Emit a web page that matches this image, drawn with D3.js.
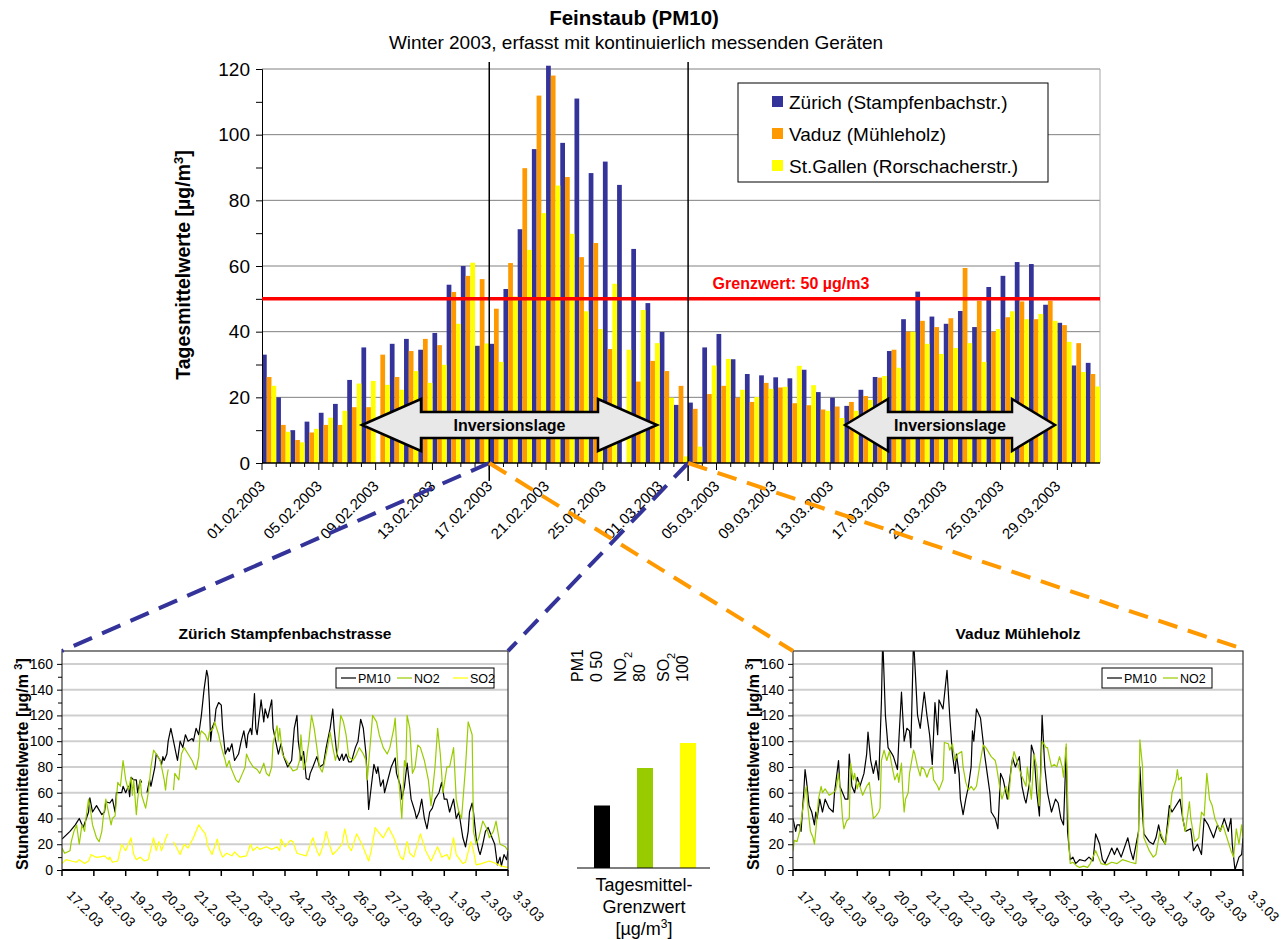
<!DOCTYPE html>
<html>
<head>
<meta charset="utf-8">
<script src="https://cdn.jsdelivr.net/npm/d3@7"></script>
<style>
  body { margin: 0; background: #fff; }
  text { font-family: "Liberation Sans", Arial, sans-serif; }
</style>
</head>
<body>
<script>
// Feinstaub (PM10) Winter 2003 - Tagesmittel + Stundenmittel

const width = 1286;
const height = 940;

// ---- daily means (01.02.2003 - 31.03.2003) ----
const stations = ["Zürich (Stampfenbachstr.)", "Vaduz (Mühleholz)", "St.Gallen (Rorschacherstr.)"];
const stationColors = ["#333399", "#FF9900", "#FFFF00"];

const zurich = [33,20,10,12.6,15.3,18,25.3,35.2,null,36.3,37.8,34.5,39.6,54.3,60,35.7,36.3,53,71.2,95.6,
  121,97.5,111,88.3,91.8,84.7,65.2,48.7,39.9,17.7,18.4,35.2,39.3,31.6,27.1,26.7,26.1,25.8,28.4,21.6,
  19.9,17.4,22.3,26.2,34.1,43.8,52.2,44.6,42.4,46.3,41.4,53.6,57,61.2,60.6,48.2,42.7,29.7,30.5];
const vaduz = [26.2,11.6,7,9.3,11.6,11.6,17,17,33,26.2,34.1,37.8,35.9,52.1,57,56,47,60.9,89.8,111.9,
  118,87.1,62.7,67,34.7,null,24.8,31.1,28,23.5,16.5,21,23.5,19.9,18.6,24.4,23,18.2,17.6,16.3,
  17.2,18.6,20.4,26,34.5,40,43.3,41.4,44.1,59.4,49.4,40,44.4,49.2,43.8,49.4,42,36.5,27.1];
const stgallen = [23.5,9.5,6.3,10.4,13.8,15.9,24.2,25,23.8,22.3,28,24.4,29.9,42.4,61,36.4,30.8,50.7,64.9,76.1,
  84.5,69.8,46.2,40.8,54.6,34.5,46.6,36.5,19.9,2,5,29.7,31.7,22.3,20.1,22.6,23.2,29.6,23.7,15.9,
  13.7,15.9,19.2,26.5,29,40,36.3,33.2,35,36.5,30.8,40.8,46.2,43.8,45.4,43.3,36.9,27.7,23.3];

const dateLabels = ["01.02.2003","05.02.2003","09.02.2003","13.02.2003","17.02.2003","21.02.2003","25.02.2003",
  "01.03.2003","05.03.2003","09.03.2003","13.03.2003","17.03.2003","21.03.2003","25.03.2003","29.03.2003"];
const zoomRange = ["17.02.2003", "03.03.2003"];
const grenzwert = 50;

// ---- hourly means 17.2.03 - 3.3.03, [hour since 17.2. 00:00, value] ----
const zhPM10 = [[0,24],[6,30],[10,35],[13,40],[16,33],[20,45],[21,56],[23,45],[26,50],[30,43],[32,45],[33,53],[36,52],[38,55],[40,45],[41,60],[45,60],[46,65],[48,60],[50,65],[51,57],[52,72],[54,70],[56,70],[57,60],[59,70],[60,68],[62,null],[64,60],[66,70],[67,65],[70,80],[71,90],[74,85],[75,82],[76,88],[77,85],[79,90],[80,100],[82,110],[84,100],[85,95],[87,85],[89,100],[91,95],[93,105],[95,100],[98,102],[99,100],[101,110],[103,105],[105,120],[107,140],[109,155],[110,150],[111,130],[112,100],[113,110],[115,115],[116,125],[118,130],[120,128],[121,110],[123,90],[125,95],[126,92],[128,98],[130,85],[133,90],[135,100],[137,108],[139,95],[140,105],[142,110],[143,105],[145,137],[146,110],[147,105],[150,132],[152,115],[153,125],[155,118],[158,132],[159,110],[161,100],[163,90],[165,98],[167,88],[170,80],[173,85],[175,110],[177,120],[178,100],[180,85],[182,92],[184,71],[186,70],[187,75],[189,80],[192,88],[194,80],[197,82],[199,95],[202,110],[204,125],[205,110],[207,90],[209,85],[211,90],[212,85],[214,90],[216,84],[218,84],[221,95],[223,100],[225,117],[227,110],[229,90],[230,70],[231,47],[233,65],[235,82],[237,75],[238,80],[240,65],[242,70],[243,60],[246,72],[248,80],[251,87],[252,75],[255,65],[256,55],[258,65],[260,83],[262,65],[263,55],[266,45],[267,40],[269,45],[271,55],[273,40],[275,32],[277,45],[279,48],[281,55],[284,60],[286,68],[288,55],[290,55],[292,45],[295,55],[297,40],[299,45],[302,25],[304,18],[306,30],[307,45],[309,52],[310,45],[312,25],[314,15],[315,12],[317,20],[319,30],[321,33],[324,25],[326,20],[328,4],[330,10],[331,3],[333,12],[335,8],[336,15]];
const zhNO2 = [[0,17],[2,13],[6,15],[7,22],[9,30],[11,35],[13,20],[15,35],[17,30],[18,40],[20,55],[21,50],[23,35],[26,25],[28,22],[30,30],[31,40],[33,55],[35,45],[37,35],[38,40],[40,42],[42,68],[44,65],[46,85],[48,70],[50,62],[52,72],[53,58],[54,70],[56,43],[57,55],[59,70],[60,58],[63,48],[65,60],[66,70],[67,80],[69,93],[71,90],[74,85],[75,80],[77,70],[78,62],[79,72],[80,78],[82,null],[84,62],[85,75],[88,70],[89,80],[90,90],[92,95],[95,90],[98,85],[100,80],[101,78],[103,88],[104,105],[105,108],[108,105],[110,100],[111,107],[114,110],[115,115],[118,105],[119,100],[121,92],[123,85],[124,80],[126,85],[127,80],[129,75],[131,70],[133,68],[136,75],[138,80],[139,90],[141,85],[144,80],[147,78],[149,75],[151,80],[152,83],[154,75],[156,73],[158,80],[159,98],[162,112],[163,100],[164,110],[166,90],[169,85],[172,80],[174,77],[177,78],[179,85],[180,105],[182,78],[184,85],[186,100],[188,120],[190,110],[192,95],[194,80],[196,76],[197,80],[200,95],[202,107],[204,95],[206,85],[208,95],[210,120],[212,115],[214,105],[216,88],[219,85],[221,88],[224,95],[227,90],[229,85],[230,70],[232,95],[234,120],[237,115],[239,105],[242,95],[245,90],[247,95],[250,110],[251,118],[253,80],[256,40],[258,85],[259,80],[260,120],[262,110],[264,75],[266,80],[268,97],[270,95],[273,85],[276,70],[278,50],[281,80],[283,110],[285,90],[287,60],[290,80],[292,80],[295,95],[297,55],[299,45],[301,40],[304,80],[306,115],[309,105],[310,30],[312,20],[314,25],[317,38],[320,32],[322,25],[325,30],[327,38],[330,20],[334,18],[336,15]];
const zhSO2 = [[0,5],[3,8],[7,7],[11,6],[13,8],[17,5],[20,7],[22,12],[25,10],[28,10],[32,11],[35,8],[36,10],[38,6],[42,7],[45,20],[48,15],[52,25],[54,12],[56,8],[59,10],[62,7],[65,8],[69,25],[71,15],[73,22],[75,15],[79,27],[80,28],[82,null],[84,22],[86,18],[89,12],[92,20],[95,17],[99,25],[103,35],[105,32],[108,28],[110,18],[113,12],[117,24],[119,15],[121,10],[124,13],[128,11],[130,14],[134,10],[139,11],[142,20],[144,15],[147,18],[149,16],[154,18],[158,16],[162,18],[164,15],[165,24],[168,18],[172,23],[174,22],[177,13],[180,12],[184,11],[189,25],[192,15],[194,11],[197,20],[199,30],[202,18],[204,12],[207,15],[211,20],[213,32],[216,18],[218,15],[222,28],[226,20],[231,7],[233,15],[236,33],[238,30],[242,25],[246,33],[250,25],[255,10],[257,8],[260,22],[262,13],[265,10],[270,28],[274,15],[278,7],[283,18],[286,10],[290,12],[292,8],[295,25],[297,12],[302,5],[304,6],[308,22],[310,15],[312,4],[316,5],[322,7],[327,5],[331,3],[336,2]];
const vdPM10 = [[0,40],[2,30],[3,35],[5,35],[6,30],[7,45],[8,60],[9,78],[10,70],[12,50],[14,45],[16,35],[17,45],[18,40],[20,55],[21,50],[22,45],[24,55],[27,48],[30,45],[31,60],[34,85],[35,65],[37,60],[39,55],[41,55],[42,90],[44,65],[46,60],[48,72],[50,65],[53,75],[55,90],[56,107],[58,85],[60,75],[62,85],[64,70],[66,130],[67,180],[69,120],[71,95],[74,90],[75,88],[78,78],[79,100],[81,138],[83,100],[85,110],[87,108],[88,95],[90,180],[91,160],[93,120],[95,110],[98,138],[100,120],[102,105],[104,82],[106,130],[108,105],[109,132],[112,125],[115,155],[117,120],[119,90],[121,75],[122,90],[124,75],[125,55],[127,43],[129,55],[131,65],[133,80],[134,108],[135,100],[137,125],[140,118],[143,90],[145,75],[147,60],[148,45],[151,40],[153,32],[155,75],[157,70],[160,55],[163,80],[164,87],[166,80],[169,88],[171,65],[173,55],[174,52],[177,70],[178,97],[180,90],[182,60],[184,42],[186,120],[188,80],[190,60],[193,45],[196,55],[198,52],[200,40],[202,35],[204,95],[205,30],[207,8],[209,10],[211,5],[214,8],[218,7],[221,10],[224,7],[226,28],[229,20],[231,8],[233,5],[236,12],[238,17],[240,12],[242,17],[245,10],[250,25],[252,15],[254,8],[258,30],[259,80],[260,60],[262,28],[266,22],[269,20],[271,25],[273,35],[275,25],[278,20],[281,50],[283,45],[289,55],[291,40],[293,30],[297,32],[299,15],[302,20],[305,12],[307,40],[310,35],[314,25],[317,35],[319,30],[322,40],[325,30],[327,40],[328,20],[330,0],[333,10],[335,12],[336,25]];
const vdNO2 = [[0,15],[1,23],[3,22],[5,30],[7,45],[9,60],[10,65],[11,50],[13,30],[15,25],[16,20],[17,30],[19,55],[21,65],[22,60],[24,63],[27,58],[30,60],[32,62],[34,75],[36,55],[37,40],[38,32],[40,38],[42,40],[43,83],[45,70],[46,75],[48,63],[49,68],[52,58],[55,65],[57,68],[58,58],[60,40],[62,42],[64,45],[65,48],[66,85],[68,93],[70,85],[72,92],[74,80],[76,70],[78,75],[79,68],[81,83],[82,60],[83,45],[84,55],[86,60],[87,75],[90,93],[91,90],[93,80],[95,73],[96,80],[98,78],[100,72],[102,78],[104,80],[105,70],[108,65],[109,62],[112,70],[113,99],[116,98],[117,93],[119,98],[121,85],[123,90],[126,92],[127,80],[129,68],[131,62],[133,65],[135,62],[137,65],[140,85],[142,97],[144,95],[148,88],[151,85],[152,80],[155,60],[156,55],[159,65],[160,60],[161,55],[163,80],[165,92],[168,82],[170,75],[172,70],[174,65],[175,80],[178,55],[180,90],[182,80],[184,50],[186,100],[189,95],[190,95],[193,80],[195,82],[197,80],[199,88],[201,80],[202,72],[204,98],[206,20],[207,5],[209,6],[212,3],[214,2],[217,3],[220,2],[222,5],[226,15],[228,10],[230,5],[234,4],[238,6],[242,5],[246,8],[252,6],[256,5],[258,30],[259,101],[261,80],[262,25],[266,15],[269,10],[271,12],[274,30],[276,25],[278,20],[281,40],[283,60],[286,70],[287,78],[288,70],[290,72],[291,40],[293,30],[296,53],[297,40],[300,22],[303,25],[305,45],[307,42],[309,75],[311,55],[313,50],[315,40],[319,30],[321,35],[324,25],[327,15],[329,10],[331,32],[333,20],[335,35],[336,25]];
const hourLabels = ["17.2.03","18.2.03","19.2.03","20.2.03","21.2.03","22.2.03","23.2.03","24.2.03",
  "25.2.03","26.2.03","27.2.03","28.2.03","1.3.03","2.3.03","3.3.03"];

// ---- daily limit values ----
const limitNames = ["PM10", "NO2", "SO2"];
const limitValues = [50, 80, 100];
const limitColors = ["#000000", "#99CC00", "#FFFF00"];

const svg = d3.select("body").append("svg")
  .attr("width", width)
  .attr("height", height)
  .style("display", "block");

svg.append("rect").attr("width", width).attr("height", height).attr("fill", "#fff");

// ================= main chart =================
const days = d3.timeDay.range(new Date(2003, 1, 1), new Date(2003, 3, 1));
const cats = days.map(d3.timeFormat("%d.%m.%Y"));

const x = d3.scaleBand().domain(cats).range([262, 1100]).padding(0);
const xs = d3.scaleBand().domain(stations).range([0, x.bandwidth()]);
const y = d3.scaleLinear().domain([0, 120]).range([463, 69]);

svg.append("text").attr("x", 634).attr("y", 25).attr("text-anchor", "middle")
  .attr("font-size", 20.5).attr("font-weight", "bold").text("Feinstaub (PM10)");
svg.append("text").attr("x", 636).attr("y", 49).attr("text-anchor", "middle")
  .attr("font-size", 19).text("Winter 2003, erfasst mit kontinuierlich messenden Geräten");

// gridlines
svg.append("g").selectAll("line")
  .data(d3.range(20, 121, 20))
  .join("line")
  .attr("x1", 262).attr("x2", 1100)
  .attr("y1", d => y(d)).attr("y2", d => y(d))
  .attr("stroke", "#808080").attr("stroke-width", 1);
svg.append("line").attr("x1", 1100).attr("x2", 1100).attr("y1", y(120)).attr("y2", y(0))
  .attr("stroke", "#a6a6a6");

// bars
const series = [zurich, vaduz, stgallen];
series.forEach((vals, si) => {
  svg.append("g").selectAll("rect")
    .data(vals.map((v, i) => ({ cat: cats[i], v })).filter(d => d.v != null))
    .join("rect")
    .attr("x", d => x(d.cat) + xs(stations[si]))
    .attr("width", xs.bandwidth())
    .attr("y", d => y(d.v))
    .attr("height", d => y(0) - y(d.v))
    .attr("fill", stationColors[si]);
});

// y axis
const yAxis = svg.append("g").attr("transform", "translate(262,0)")
  .call(d3.axisLeft(y).tickValues(d3.range(0, 121, 20)).tickSize(6).tickPadding(6));
yAxis.selectAll("text").attr("font-size", 19).attr("font-family", "Liberation Sans, Arial");
yAxis.select(".domain").attr("stroke", "#000");
svg.append("g").attr("transform", "translate(262,0)")
  .call(d3.axisLeft(y).tickValues(d3.range(10, 120, 20)).tickSize(6).tickFormat(""))
  .select(".domain").remove();

svg.append("text")
  .attr("transform", "translate(190,265) rotate(-90)")
  .attr("text-anchor", "middle").attr("font-size", 19.5).attr("font-weight", "bold")
  .call(t => {
    t.append("tspan").text("Tagesmittelwerte [µg/m");
    t.append("tspan").attr("baseline-shift", "super").attr("font-size", 13).text("3");
    t.append("tspan").text("]");
  });

// x axis
svg.append("line").attr("x1", 262).attr("x2", 1100).attr("y1", y(0)).attr("y2", y(0))
  .attr("stroke", "#000").attr("stroke-width", 1.5);
svg.append("g").selectAll("line")
  .data(cats)
  .join("line")
  .attr("x1", d => x(d)).attr("x2", d => x(d))
  .attr("y1", y(0)).attr("y2", d => y(0) + (dateLabels.includes(d) ? 7 : 4))
  .attr("stroke", "#000");
svg.append("g").selectAll("text")
  .data(dateLabels)
  .join("text")
  .attr("transform", d => `translate(${x(d) + 4},487) rotate(-45)`)
  .attr("text-anchor", "end").attr("font-size", 15)
  .text(d => d);

// limit line
svg.append("line").attr("x1", 262).attr("x2", 1100)
  .attr("y1", y(grenzwert)).attr("y2", y(grenzwert))
  .attr("stroke", "#FF0000").attr("stroke-width", 3.5);
svg.append("text").attr("x", 791).attr("y", y(grenzwert) - 10).attr("text-anchor", "middle")
  .attr("font-size", 16).attr("font-weight", "bold").attr("fill", "#FF0000")
  .text("Grenzwert: 50 µg/m3");

// marker lines for the zoomed period
zoomRange.forEach(d => {
  svg.append("line").attr("x1", x(d)).attr("x2", x(d)).attr("y1", 62).attr("y2", 481)
    .attr("stroke", "#000").attr("stroke-width", 1.5);
});

// inversion arrows
function doubleArrow(xl, xr, cy, head) {
  const p = [[xl, cy], [xl + head, cy - 26], [xl + head, cy - 13], [xr - head, cy - 13], [xr - head, cy - 26],
    [xr, cy], [xr - head, cy + 26], [xr - head, cy + 13], [xl + head, cy + 13], [xl + head, cy + 26]];
  svg.append("path").attr("d", "M" + p.join("L") + "Z")
    .attr("fill", "#e8e8e8").attr("stroke", "#000").attr("stroke-width", 2.5)
    .attr("stroke-linejoin", "miter");
  svg.append("text").attr("x", (xl + xr) / 2).attr("y", cy + 6).attr("text-anchor", "middle")
    .attr("font-size", 16).attr("font-weight", "bold").text("Inversionslage");
}
doubleArrow(362, 657, 425, 59);
doubleArrow(845, 1055, 425, 43);

// legend
const leg = svg.append("g").attr("transform", "translate(738,83)");
leg.append("rect").attr("width", 310).attr("height", 99).attr("fill", "#fff").attr("stroke", "#000");
stations.forEach((s, i) => {
  const row = leg.append("g").attr("transform", `translate(34,${19 + i * 32})`);
  row.append("rect").attr("x", 0).attr("y", -6).attr("width", 11).attr("height", 11).attr("fill", stationColors[i]);
  row.append("text").attr("x", 17).attr("y", 6.5).attr("font-size", 19).text(s);
});

// ================= hourly charts =================
const hy = d3.scaleLinear().domain([0, 170]).range([870, 651]);

function hourlyChart(left, right, title, lines, legendX, legendW) {
  const hx = d3.scaleLinear().domain([0, 336]).range([left, right]);
  const g = svg.append("g");
  const clipId = "clip" + left;
  g.append("clipPath").attr("id", clipId).append("rect")
    .attr("x", left).attr("y", hy(170)).attr("width", right - left).attr("height", hy(0) - hy(170));

  g.selectAll("line.grid")
    .data(d3.range(20, 161, 20))
    .join("line").attr("class", "grid")
    .attr("x1", left).attr("x2", right)
    .attr("y1", d => hy(d)).attr("y2", d => hy(d))
    .attr("stroke", "#cfcfcf").attr("stroke-width", 2);

  const line = d3.line().defined(d => d[1] != null).x(d => hx(d[0])).y(d => hy(d[1]));
  const lg = g.append("g").attr("clip-path", `url(#${clipId})`);
  lines.forEach(l => {
    lg.append("path").datum(l.data).attr("d", line)
      .attr("fill", "none").attr("stroke", l.color).attr("stroke-width", 1.2)
      .attr("stroke-linejoin", "round");
  });

  g.append("rect").attr("x", left).attr("y", hy(170)).attr("width", right - left).attr("height", hy(0) - hy(170))
    .attr("fill", "none").attr("stroke", "#333").attr("stroke-width", 1.2);

  const ya = g.append("g").attr("transform", `translate(${left},0)`)
    .call(d3.axisLeft(hy).tickValues(d3.range(0, 161, 20)).tickSize(5).tickPadding(4));
  ya.selectAll("text").attr("font-size", 14).attr("font-family", "Liberation Sans, Arial");
  ya.select(".domain").remove();
  g.append("g").attr("transform", `translate(${left},0)`)
    .call(d3.axisLeft(hy).tickValues(d3.range(10, 170, 20)).tickSize(4).tickFormat(""))
    .select(".domain").remove();

  g.append("line").attr("x1", left).attr("x2", right).attr("y1", hy(0)).attr("y2", hy(0))
    .attr("stroke", "#000").attr("stroke-width", 2);
  g.selectAll("line.xt")
    .data(d3.range(0, 337, 24))
    .join("line").attr("class", "xt")
    .attr("x1", d => hx(d)).attr("x2", d => hx(d))
    .attr("y1", hy(0)).attr("y2", hy(0) + 6)
    .attr("stroke", "#000").attr("stroke-width", 1.5);
  g.selectAll("text.xl")
    .data(hourLabels)
    .join("text").attr("class", "xl")
    .attr("transform", (d, i) => `translate(${hx(i * 24) + 4},896) rotate(45)`)
    .attr("font-size", 13.5)
    .text(d => d);

  g.append("text").attr("x", (left + right) / 2).attr("y", 639).attr("text-anchor", "middle")
    .attr("font-size", 15.5).attr("font-weight", "bold").text(title);

  g.append("text")
    .attr("transform", `translate(${left - 34},${hy(0)}) rotate(-90)`)
    .attr("font-size", 16).attr("font-weight", "bold")
    .call(t => {
      t.append("tspan").text("Stundenmittelwerte [µg/m ");
      t.append("tspan").attr("baseline-shift", "super").attr("font-size", 11).text("3");
      t.append("tspan").text("]");
    });

  // legend
  const lgd = g.append("g").attr("transform", `translate(${legendX},668)`);
  lgd.append("rect").attr("width", legendW).attr("height", 20).attr("fill", "#fff").attr("stroke", "#000");
  lines.forEach((l, i) => {
    const ix = 5 + i * 56;
    lgd.append("line").attr("x1", ix).attr("x2", ix + 15).attr("y1", 10).attr("y2", 10)
      .attr("stroke", l.color).attr("stroke-width", 1.2);
    lgd.append("text").attr("x", ix + 17).attr("y", 14.5).attr("font-size", 12.5).text(l.name);
  });
}

hourlyChart(62, 508, "Zürich Stampfenbachstrasse", [
  { name: "PM10", color: "#000000", data: zhPM10 },
  { name: "NO2", color: "#99CC00", data: zhNO2 },
  { name: "SO2", color: "#FFFF00", data: zhSO2 }
], 336, 158);

hourlyChart(793, 1243, "Vaduz Mühleholz", [
  { name: "PM10", color: "#000000", data: vdPM10 },
  { name: "NO2", color: "#99CC00", data: vdNO2 }
], 1102, 110);

// ================= limit values =================
const lx = d3.scalePoint().domain(limitNames).range([602, 688]);
const ly = d3.scaleLinear().domain([0, 100]).range([868, 743]);

svg.append("g").selectAll("rect")
  .data(limitNames)
  .join("rect")
  .attr("x", d => lx(d) - 8).attr("width", 16)
  .attr("y", (d, i) => ly(limitValues[i]))
  .attr("height", (d, i) => ly(0) - ly(limitValues[i]))
  .attr("fill", (d, i) => limitColors[i]);
svg.append("line").attr("x1", 577).attr("x2", 710).attr("y1", ly(0)).attr("y2", ly(0))
  .attr("stroke", "#000").attr("stroke-width", 1);

// rotated labels above the limit bars
const limitLabels = [
  [["PM1"], ["0 50"]],
  [["NO", "2"], ["80"]],
  [["SO", "2"], ["100"]]
];
limitNames.forEach((n, i) => {
  limitLabels[i].forEach((parts, j) => {
    const t = svg.append("text")
      .attr("transform", `translate(${lx(n) - 19 + j * 19},682) rotate(-90)`)
      .attr("font-size", 16);
    t.append("tspan").text(parts[0]);
    if (parts[1]) t.append("tspan").attr("baseline-shift", "sub").attr("font-size", 11).text(parts[1]);
  });
});

const cap = svg.append("g").attr("text-anchor", "middle").attr("font-size", 18);
cap.append("text").attr("x", 644).attr("y", 891).text("Tagesmittel-");
cap.append("text").attr("x", 644).attr("y", 913).text("Grenzwert");
cap.append("text").attr("x", 644).attr("y", 935)
  .call(t => {
    t.append("tspan").text("[µg/m");
    t.append("tspan").attr("baseline-shift", "super").attr("font-size", 12).text("3");
    t.append("tspan").text("]");
  });

// ================= connector lines =================
const x0 = x(zoomRange[0]);
const x1 = x(zoomRange[1]);
const connectors = [
  { from: x0, to: [62, hy(170)], color: "#333399" },
  { from: x1, to: [508, hy(170)], color: "#333399" },
  { from: x0, to: [793, hy(170)], color: "#FF9900" },
  { from: x1, to: [1243, hy(170) - 2], color: "#FF9900" }
];
svg.append("g").selectAll("line")
  .data(connectors)
  .join("line")
  .attr("x1", d => d.from).attr("y1", y(0))
  .attr("x2", d => d.to[0]).attr("y2", d => d.to[1])
  .attr("stroke", d => d.color).attr("stroke-width", 4)
  .attr("stroke-dasharray", "20 11");
</script>
</body>
</html>
